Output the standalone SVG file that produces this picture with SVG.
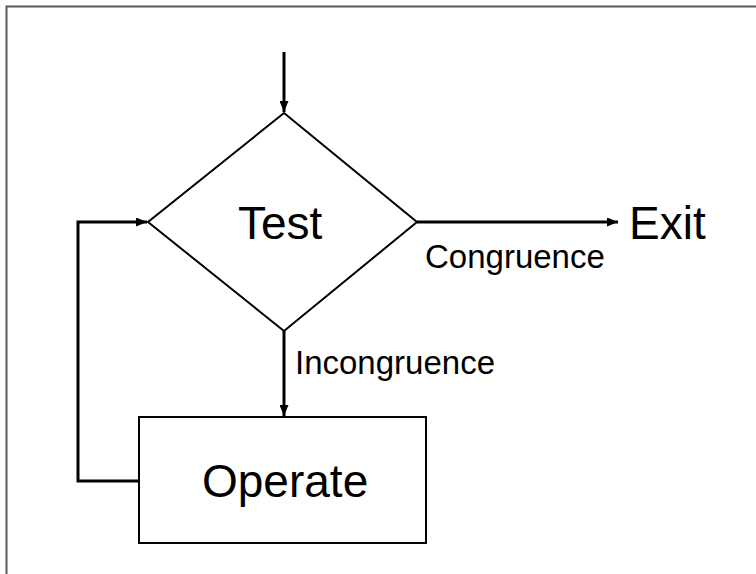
<svg xmlns="http://www.w3.org/2000/svg" width="756" height="574" viewBox="0 0 756 574">
  <style>
    .shape { fill: #ffffff; stroke: #000000; stroke-width: 2; }
    .conn { fill: none; stroke: #000000; stroke-width: 3; }
    .big { font-family: "Liberation Sans", Arial, sans-serif; font-size: 46px; fill: #000000; }
    .small { font-family: "Liberation Sans", Arial, sans-serif; font-size: 33px; fill: #000000; }
  </style>
  <defs>
    <marker id="arrow" viewBox="0 0 11 9" refX="11" refY="4.5" markerWidth="11" markerHeight="9" markerUnits="userSpaceOnUse" orient="auto">
      <path d="M0,0 L11,4.5 L0,9 Z" fill="#000000"/>
    </marker>
  </defs>
  <rect width="756" height="574" fill="#ffffff"/>
  <!-- outer frame -->
  <rect x="6.5" y="6.5" width="760" height="580" fill="none" stroke="#5a5a5a" stroke-width="2"/>

  <g id="connectors">
    <line class="conn" x1="284" y1="52" x2="284" y2="112" marker-end="url(#arrow)"/>
    <line class="conn" x1="417" y1="222" x2="618" y2="222" marker-end="url(#arrow)"/>
    <line class="conn" x1="284" y1="331" x2="284" y2="416" marker-end="url(#arrow)"/>
    <polyline class="conn" points="139,481 78,481 78,222 147,222" marker-end="url(#arrow)"/>
    <text class="small" x="425" y="268">Congruence</text>
    <text class="small" x="295" y="374">Incongruence</text>
  </g>

  <g id="test">
    <polygon class="shape" points="284,113 417,222 284,331 148,222"/>
    <text class="big" x="238" y="239">Test</text>
  </g>

  <g id="operate">
    <rect class="shape" x="139" y="417" width="287" height="126"/>
    <text class="big" x="202" y="497" font-size="42">Operate</text>
  </g>

  <g id="exit">
    <text class="big" x="629" y="239" font-size="42">Exit</text>
  </g>
</svg>
